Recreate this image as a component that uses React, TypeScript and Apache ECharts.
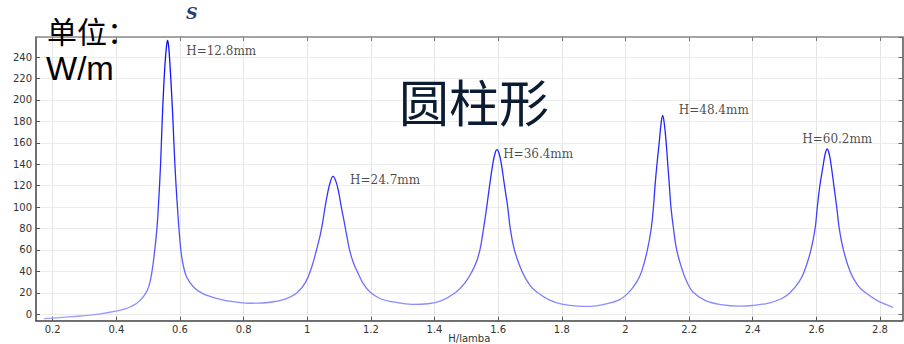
import React, { useEffect, useRef } from "react";
import * as echarts from "echarts";

// H/lamba values of the curve
const xs: number[] = [
  0.173, 0.23, 0.288, 0.35, 0.403, 0.43, 0.445, 0.462, 0.476, 0.49, 0.502, 0.511, 0.52, 0.527, 0.532,
  0.539, 0.544, 0.549, 0.554, 0.558, 0.561, 0.564, 0.567, 0.573, 0.578, 0.584, 0.592, 0.602, 0.61,
  0.622, 0.644, 0.67, 0.696, 0.74, 0.78, 0.82, 0.86, 0.9, 0.935, 0.968, 0.995, 1.015, 1.029, 1.04,
  1.048, 1.056, 1.064, 1.072, 1.081, 1.09, 1.098, 1.107, 1.115, 1.125, 1.133, 1.145, 1.157, 1.175,
  1.198, 1.23, 1.27,
  1.33, 1.38, 1.42, 1.465, 1.495, 1.518, 1.533, 1.544, 1.554, 1.564, 1.573, 1.583, 1.59, 1.596, 1.603,
  1.61, 1.62, 1.63, 1.638, 1.651, 1.675, 1.7, 1.722, 1.76, 1.8, 1.85, 1.89, 1.94, 1.98, 2.009,
  2.035, 2.051, 2.069, 2.081, 2.088, 2.093, 2.099, 2.106, 2.112, 2.117, 2.122, 2.128, 2.133, 2.138,
  2.143, 2.151, 2.161, 2.18, 2.195, 2.213, 2.25, 2.3, 2.36, 2.4, 2.45, 2.49, 2.517, 2.545, 2.562,
  2.583, 2.596, 2.603, 2.611, 2.622, 2.628, 2.634, 2.64, 2.646, 2.655, 2.664, 2.672, 2.685, 2.706,
  2.73, 2.753, 2.79, 2.82, 2.841,
];
// S (W/m) values of the curve
const ys: number[] = [
  -4.1, -2.9, -1.6, 0.4, 3.1, 5.2, 7.1, 9.8, 13.4, 18.5, 25.8, 38, 58, 78, 100,
  140, 180, 213, 238, 251, 255.5, 251, 240, 210, 180, 140, 100, 62, 46,
  34, 25, 19.5, 16.5, 13, 11.3, 10.3, 10.5, 12, 14.5, 20, 30, 45, 60, 73,
  85, 100, 113, 123, 128.6, 124, 115, 100, 88, 72, 60, 48, 40, 29,
  20.5, 14.5, 11.5,
  9.2, 9.8, 12.5, 20, 29, 40, 50, 62, 80, 100, 120, 140, 150, 153.6, 150,
  140, 120, 100, 80, 60, 40, 27, 20.5, 13.5, 9.5, 7.6, 7.4, 9.8, 13.5, 20,
  30, 40, 60, 80, 100, 120, 140, 160, 178, 185.6, 178, 160, 140, 120,
  100, 80, 60, 40, 29, 20.5, 13, 9, 7.6, 8.2, 10.5, 14.5, 20, 30, 40,
  60, 80, 100, 120, 140, 150, 154.2, 150, 140, 120, 100, 80, 60, 40,
  27, 20.5, 13, 9, 6.5,
];

// peak annotations
const annotText: string[] = ["H=12.8mm", "H=24.7mm", "H=36.4mm", "H=48.4mm", "H=60.2mm"];
const annotX: number[] = [0.618, 1.133, 1.614, 2.166, 2.554];
const annotY: number[] = [245.4, 125.3, 149.5, 190.9, 163.5];

const xMin = 0.1475;
const xMax = 2.8707;
const yMin = -6;
const yMax = 258.7;

export default function App() {
  const ref = useRef<HTMLDivElement>(null);
  useEffect(() => {
    if (!ref.current) return;
    const chart = echarts.init(ref.current, undefined, { renderer: "svg" });
    const tickFont = { fontFamily: "DejaVu Sans", fontSize: 10, color: "#333" };
    const option: any = {
      animation: false,
      backgroundColor: "#fff",
      grid: { left: 36, top: 37, right: 1.5, bottom: 23.3, containLabel: false, outerBoundsMode: "none" },
      xAxis: [
        {
          type: "value",
          min: xMin,
          max: xMax,
          splitNumber: 13,
          name: "H/lamba",
          nameLocation: "middle",
          nameGap: 13,
          nameMoveOverlap: false,
          nameTextStyle: { fontFamily: "DejaVu Sans", fontSize: 10, color: "#333", lineHeight: 10 },
          axisLine: { show: true, onZero: false, lineStyle: { color: "#444", width: 1.5 } },
          axisTick: { show: true, inside: true, length: 4, lineStyle: { color: "#555" } },
          axisLabel: { ...tickFont, margin: 4, showMinLabel: false, showMaxLabel: false },
          splitLine: { show: true, lineStyle: { color: "#e6e6e6", width: 1 } },
        },
        {
          type: "value",
          position: "top",
          min: xMin,
          max: xMax,
          splitNumber: 13,
          axisLine: { show: true, onZero: false, lineStyle: { color: "#8a8a8a", width: 1.5 } },
          axisTick: { show: true, inside: true, length: 4, lineStyle: { color: "#777" } },
          axisLabel: { show: false },
          splitLine: { show: false },
        },
      ],
      yAxis: [
        {
          type: "value",
          min: yMin,
          max: yMax,
          splitNumber: 13,
          axisLine: { show: true, onZero: false, lineStyle: { color: "#444", width: 1.5 } },
          axisTick: { show: true, inside: true, length: 4, lineStyle: { color: "#555" } },
          axisLabel: { ...tickFont, margin: 4, showMinLabel: false, showMaxLabel: false },
          splitLine: { show: true, lineStyle: { color: "#ececec", width: 1 } },
        },
        {
          type: "value",
          position: "right",
          min: yMin,
          max: yMax,
          splitNumber: 13,
          axisLine: { show: true, onZero: false, lineStyle: { color: "#555", width: 1.5 } },
          axisTick: { show: true, inside: true, length: 4, lineStyle: { color: "#666" } },
          axisLabel: { show: false },
          splitLine: { show: false },
        },
      ],
      series: [
        {
          type: "line",
          xAxisIndex: 0,
          yAxisIndex: 0,
          data: xs.map((x, i) => [x, ys[i]]),
          showSymbol: false,
          symbol: "none",
          smooth: 0.4,
          lineStyle: {
            width: 1.3,
            color: new echarts.graphic.LinearGradient(0, 0, 0, 1, [
              { offset: 0, color: "#0a0aff" },
              { offset: 0.55, color: "#3030ff" },
              { offset: 0.85, color: "#6a6aff" },
              { offset: 1, color: "#a0a0ff" },
            ]),
          },
          silent: true,
          z: 3,
        },
        {
          type: "scatter",
          xAxisIndex: 0,
          yAxisIndex: 0,
          data: annotX.map((x, i) => ({ value: [x, annotY[i]], name: annotText[i] })),
          symbolSize: 1,
          itemStyle: { color: "rgba(0,0,0,0)" },
          label: {
            show: true,
            position: "right",
            distance: 0,
            formatter: "{b}",
            fontFamily: "DejaVu Serif",
            fontSize: 12,
            color: "#1a1a1a",
          },
          silent: true,
          z: 4,
        },
      ],
      graphic: [
        {
          type: "text",
          left: 47,
          top: 15,
          style: { text: "单位：", fontFamily: "Noto Sans CJK SC", fontSize: 30, fill: "#000" },
          z: 10,
        },
        {
          type: "text",
          left: 46,
          top: 52,
          style: { text: "W/m", fontFamily: "Liberation Sans", fontSize: 33, fill: "#000" },
          z: 10,
        },
        {
          type: "text",
          left: 399,
          top: 75,
          style: { text: "圆柱形", fontFamily: "Noto Sans CJK SC", fontSize: 50, fill: "#0b1c33" },
          z: 10,
        },
        {
          type: "text",
          left: 186,
          top: 5,
          style: {
            text: "S",
            fontFamily: "DejaVu Serif",
            fontStyle: "italic",
            fontWeight: "bold",
            fontSize: 16,
            fill: "#2b3a6e",
            textShadowColor: "#f0a040",
            textShadowOffsetX: -1,
            textShadowOffsetY: 0,
            textShadowBlur: 0,
          },
          z: 10,
        },
      ],
    };
    chart.setOption(option);
    return () => chart.dispose();
  }, []);
  return (
    <div
      ref={ref}
      style={{ position: "fixed", left: 0, top: 0, width: 904, height: 344, background: "#fff" }}
    />
  );
}
